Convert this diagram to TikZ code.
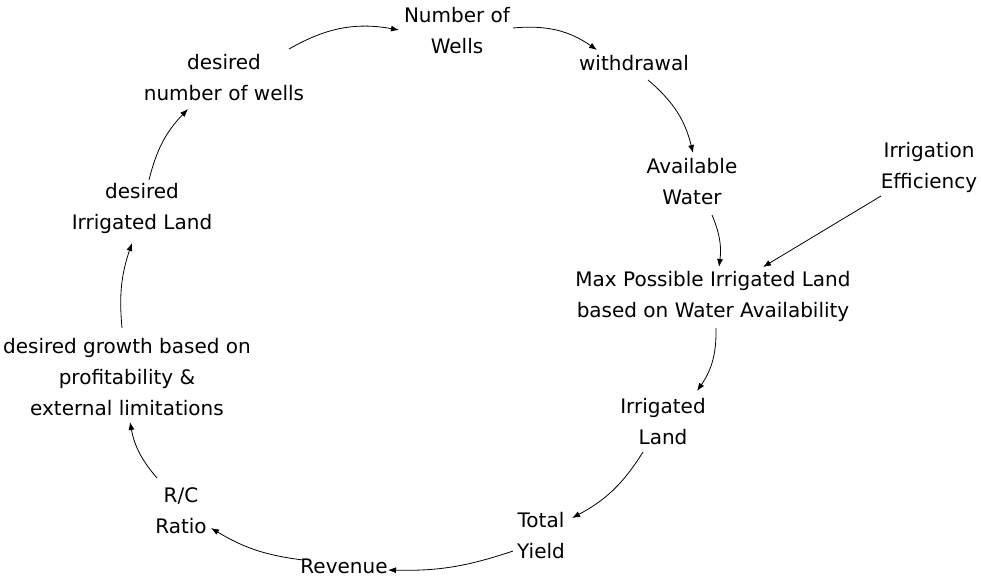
\documentclass[tikz,border=0pt]{standalone}
\usepackage{fontspec}
\setmainfont{DejaVu Sans}
\usetikzlibrary{arrows.meta,calc}
\tikzset{
  lbl/.style={align=center,inner sep=0pt,font=\fontsize{20pt}{31pt}\selectfont},
  arr/.style={-{Latex[length=8pt,width=6pt]},line width=0.8pt},
}
\begin{document}
\begin{tikzpicture}[x=1pt,y=-1pt]
\useasboundingbox (0,0) rectangle (981,580);
\node[lbl] (nw) at (457,31) {Number of\\Wells};
\node[lbl] (wd) at (634,63) {withdrawal};
\node[lbl] (dnw) at (224,78) {desired\\number of wells};
\node[lbl] (aw) at (692,182) {Available\\Water};
\node[lbl] (ie) at (929,167) {Irrigation\\Efficiency};
\node[lbl] (dil) at (142,208) {desired\\Irrigated Land};
\node[lbl] (mpil) at (713,296) {Max Possible Irrigated Land\\based on Water Availability};
\node[lbl] (dg) at (127,377) {desired growth based on\\profitability \&\\external limitations};
\node[lbl] (il) at (663,422) {Irrigated\\Land};
\node[lbl] (rc) at (181,511) {R/C\\Ratio};
\node[lbl] (ty) at (541,536) {Total\\Yield};
\node[lbl] (rev) at (344,566) {Revenue};

\draw[arr] ($(dnw)+(65,-29)$) to[bend left=20] ($(nw)+(-58,-1)$);
\draw[arr] ($(nw)+(56,-3)$) to[bend left=20] ($(wd)+(-37,-13)$);
\draw[arr] ($(wd)+(14,17)$) to[bend left=18] ($(aw)+(1,-29)$);
\draw[arr] ($(aw)+(20,33)$) to[bend left=15] ($(mpil)+(6,-29)$);
\draw[arr] ($(ie)+(-48,29)$) -- ($(mpil)+(50,-29)$);
\draw[arr] ($(mpil)+(3,32)$) to[bend left=18] ($(il)+(34,-31)$);
\draw[arr] ($(il)+(-20,30)$) to[bend left=15] ($(ty)+(31,-18)$);
\draw[arr] ($(ty)+(-28,15)$) to[bend left=10] ($(rev)+(44,4)$);
\draw[arr] ($(rev)+(-41,-6)$) to[bend left=12] ($(rc)+(30,17)$);
\draw[arr] ($(rc)+(-24,-33)$) to[bend left=15] ($(dg)+(3,45)$);
\draw[arr] ($(dg)+(-5,-49)$) to[bend left=12] ($(dil)+(-10,35)$);
\draw[arr] ($(dil)+(7,-28)$) to[bend left=15] ($(dnw)+(-36,31)$);
\end{tikzpicture}
\end{document}
